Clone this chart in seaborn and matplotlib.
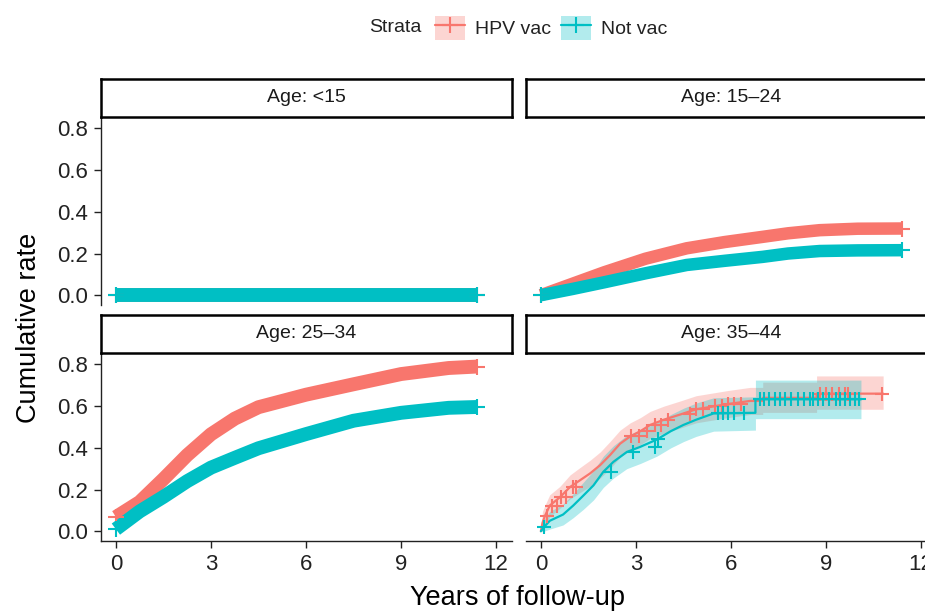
import numpy as np
import pandas as pd
import matplotlib
matplotlib.use("Agg")
import matplotlib.pyplot as plt
from matplotlib.patches import Patch
from matplotlib.lines import Line2D
import seaborn as sns

# ---------------- data ----------------
strata = ["HPV vac", "Not vac"]
colors = ["#F8766D", "#00BFC4"]
panel_titles = ["Age: <15", "Age: 15\u201324", "Age: 25\u201334", "Age: 35\u201344"]
x_ticks = [0, 3, 6, 9, 12]
y_ticks = [0.0, 0.2, 0.4, 0.6, 0.8]

# Age <15 (dense censoring -> thick band)
t_lt15 = [0.0, 11.4]
hpv_lt15 = [0.0, 0.0]
not_lt15 = [0.0, 0.0]

# Age 15-24
t_1524 = [0.0, 1.0, 2.0, 3.3, 4.6, 5.8, 7.0, 7.8, 8.8, 10.0, 11.4]
hpv_1524 = [0.0, 0.055, 0.11, 0.175, 0.225, 0.255, 0.28, 0.297, 0.312, 0.319, 0.32]
not_1524 = [0.0, 0.03, 0.062, 0.105, 0.145, 0.165, 0.184, 0.20, 0.212, 0.215, 0.216]

# Age 25-34
t_2534 = [0.0, 0.75, 1.5, 2.25, 3.0, 3.75, 4.5, 6.0, 7.5, 9.0, 10.5, 11.4]
hpv_2534 = [0.068, 0.14, 0.25, 0.365, 0.465, 0.54, 0.595, 0.655, 0.705, 0.754, 0.783, 0.79]
not_2534 = [0.01, 0.095, 0.165, 0.24, 0.305, 0.352, 0.398, 0.466, 0.53, 0.568, 0.592, 0.596]

# Age 35-44 (KM curves with confidence bands)
t_3544_hpv = [0, 0.05, 0.13, 0.28, 0.6, 0.92, 1.23, 1.55, 1.87, 2.18, 2.5, 2.82,
              3.14, 3.45, 3.88, 4.4, 4.9, 5.5, 5.9, 6.6, 7.0, 7.0, 8.7, 8.7, 10.8]
hpv_3544 = [0, 0.04, 0.074, 0.123, 0.163, 0.212, 0.244, 0.277, 0.317, 0.365, 0.42,
            0.455, 0.48, 0.51, 0.535, 0.56, 0.585, 0.60, 0.61, 0.625, 0.625, 0.64,
            0.64, 0.66, 0.66]
hpv_3544_lo = [0, 0.0, 0.03, 0.07, 0.11, 0.155, 0.185, 0.215, 0.255, 0.3, 0.355,
               0.39, 0.415, 0.445, 0.47, 0.495, 0.52, 0.535, 0.545, 0.56, 0.56, 0.57,
               0.57, 0.585, 0.585]
hpv_3544_hi = [0, 0.095, 0.125, 0.175, 0.215, 0.27, 0.305, 0.34, 0.38, 0.43, 0.485,
               0.52, 0.545, 0.575, 0.6, 0.625, 0.65, 0.665, 0.675, 0.69, 0.69, 0.715,
               0.715, 0.745, 0.745]
hpv_3544_cens = [0.2, 0.35, 0.5, 0.65, 0.8, 1.0, 1.1, 2.85, 3.1, 3.35, 3.6, 3.8, 4.0,
                 4.7, 4.9, 5.1, 5.5, 5.7, 5.9, 6.1, 6.3, 8.8, 9.0, 9.2, 9.4, 9.6, 9.7,
                 10.77]

t_3544_not = [0, 0.1, 0.28, 0.7, 1.02, 1.34, 1.66, 1.97, 2.29, 2.71, 3.14, 3.66,
              4.1, 4.5, 4.9, 5.45, 6.77, 6.77, 10.1]
not_3544 = [0, 0.02, 0.05, 0.08, 0.123, 0.171, 0.22, 0.285, 0.333, 0.38, 0.405,
            0.44, 0.48, 0.51, 0.535, 0.565, 0.568, 0.633, 0.633]
not_3544_lo = [0, 0.0, 0.01, 0.03, 0.065, 0.105, 0.15, 0.21, 0.255, 0.3, 0.325,
               0.36, 0.4, 0.43, 0.455, 0.48, 0.485, 0.54, 0.54]
not_3544_hi = [0, 0.055, 0.095, 0.13, 0.18, 0.235, 0.29, 0.36, 0.41, 0.46, 0.485,
               0.52, 0.56, 0.59, 0.615, 0.64, 0.645, 0.725, 0.725]
not_3544_cens = [0.1, 2.2, 2.9, 3.6, 3.7, 5.6, 5.75, 5.9, 6.1, 6.4, 6.9, 7.05, 7.2,
                 7.4, 7.55, 7.7, 7.9, 8.1, 8.3, 8.5, 8.6, 8.75, 8.9, 9.1, 9.3, 9.45,
                 9.6, 9.75, 9.9, 10.05]

# ---------------- style ----------------
sns.set_theme(style="white")
plt.rcParams["font.family"] = ["Liberation Sans", "DejaVu Sans"]
palette = dict(zip(strata, colors))
ink = "#222222"

W, H = 925, 613
fig = plt.figure(figsize=(W / 100, H / 100), dpi=100)


def fr(x0, y0, x1, y1):
    return [x0 / W, 1 - y1 / H, (x1 - x0) / W, (y1 - y0) / H]


col_x = [(101, 512), (526, 937)]
row_plot = [(117, 305), (353, 541)]
row_strip = [(79, 117), (315, 353)]

XLIM = (-0.47, 12.5)
YLIM = (-0.047, 0.855)


def make_df(t, a, b):
    return pd.DataFrame({
        "time": list(t) + list(t),
        "rate": list(a) + list(b),
        "Strata": [strata[0]] * len(t) + [strata[1]] * len(t),
    })


axes = []
for r in range(2):
    for c in range(2):
        x0, x1 = col_x[c]
        y0, y1 = row_plot[r]
        ax = fig.add_axes(fr(x0, y0, x1, y1))
        ax.set_xlim(*XLIM)
        ax.set_ylim(*YLIM)
        for s in ax.spines.values():
            s.set_visible(False)
        ax.set_xticks(x_ticks)
        ax.set_yticks(y_ticks)
        ax.tick_params(axis="both", labelsize=16, colors=ink, length=5, width=1,
                       direction="out", pad=4)
        if c == 0:
            ax.spines["left"].set_visible(True)
            ax.spines["left"].set_color(ink)
            ax.spines["left"].set_linewidth(1.0)
            ax.yaxis.set_tick_params(left=True)
            ax.set_yticklabels([f"{v:.1f}" for v in y_ticks])
        else:
            ax.yaxis.set_tick_params(left=False, labelleft=False)
        if r == 1:
            ax.spines["bottom"].set_visible(True)
            ax.spines["bottom"].set_color(ink)
            ax.spines["bottom"].set_linewidth(1.0)
            ax.xaxis.set_tick_params(bottom=True)
            ax.set_xticklabels([str(v) for v in x_ticks])
        else:
            ax.xaxis.set_tick_params(bottom=False, labelbottom=False)
        ax.grid(False)
        ax.set_facecolor("white")
        axes.append(ax)

        # strip
        sy0, sy1 = row_strip[r]
        sax = fig.add_axes(fr(x0, sy0, x1, sy1))
        sax.set_xticks([])
        sax.set_yticks([])
        for s in sax.spines.values():
            s.set_visible(True)
            s.set_color("black")
            s.set_linewidth(1.8)
        sax.set_facecolor("white")
        sax.text(0.5, 0.5, panel_titles[r * 2 + c], ha="center", va="center",
                 fontsize=14, color="#1a1a1a", transform=sax.transAxes)

# thick-band panels (dense censor marks)
for ax, (t, a, b), lw in zip(axes[:3],
                             [(t_lt15, hpv_lt15, not_lt15),
                              (t_1524, hpv_1524, not_1524),
                              (t_2534, hpv_2534, not_2534)],
                             [10, 9, 10]):
    df = make_df(t, a, b)
    sns.lineplot(data=df, x="time", y="rate", hue="Strata", palette=palette,
                 estimator=None, ax=ax, legend=False, linewidth=lw,
                 solid_capstyle="butt", solid_joinstyle="round")
    for arr, col in zip([a, b], colors):
        ax.plot([t[0], t[-1]], [arr[0], arr[-1]], ls="none", marker="+",
                ms=12, mew=1.5, color=col)
    ax.set_xlabel("")
    ax.set_ylabel("")

# 35-44 panel: KM curves with ribbons and censor marks
ax = axes[3]
for t, lo, hi, col in [
    (t_3544_hpv, hpv_3544_lo, hpv_3544_hi, colors[0]),
    (t_3544_not, not_3544_lo, not_3544_hi, colors[1]),
]:
    ax.fill_between(t, lo, hi, color=col, alpha=0.3, lw=0)
df4 = pd.concat([
    pd.DataFrame({"time": t_3544_hpv, "rate": hpv_3544, "Strata": strata[0]}),
    pd.DataFrame({"time": t_3544_not, "rate": not_3544, "Strata": strata[1]}),
])
sns.lineplot(data=df4, x="time", y="rate", hue="Strata", palette=palette,
             estimator=None, sort=False, ax=ax, legend=False, linewidth=1.6)
for t, v, cens, col in [
    (t_3544_hpv, hpv_3544, hpv_3544_cens, colors[0]),
    (t_3544_not, not_3544, not_3544_cens, colors[1]),
]:
    tt = np.asarray(t)
    vv = np.asarray(v)
    cy = vv[np.searchsorted(tt, cens, side="right") - 1]
    ax.plot(cens, cy, ls="none", marker="+", ms=10, mew=1.5, color=col)
ax.set_xlabel("")
ax.set_ylabel("")

# axis titles
fig.text(518 / W, 1 - 598 / H, "Years of follow-up", ha="center", va="center",
         fontsize=19.5, color="black")
fig.text(29 / W, 1 - 328 / H, "Cumulative rate", ha="center", va="center",
         rotation=90, fontsize=19.5, color="black")

# legend
handles = []
for col in colors:
    handles.append((Patch(facecolor=col, alpha=0.3, edgecolor="none"),
                    Line2D([], [], color=col, lw=1.6, marker="+", ms=12, mew=1.5)))
fig.text(422 / W, 1 - 28 / H, "Strata", ha="right", va="center", fontsize=14,
         color=ink)
fig.legend(handles=handles, labels=strata, ncol=2, loc="center",
           bbox_to_anchor=(551 / W, 1 - 28 / H), frameon=False, fontsize=14,
           handlelength=1.55, handleheight=1.6, handletextpad=0.5,
           columnspacing=0.55, labelcolor=ink)

fig.savefig("out.png", dpi=100, facecolor="white")
